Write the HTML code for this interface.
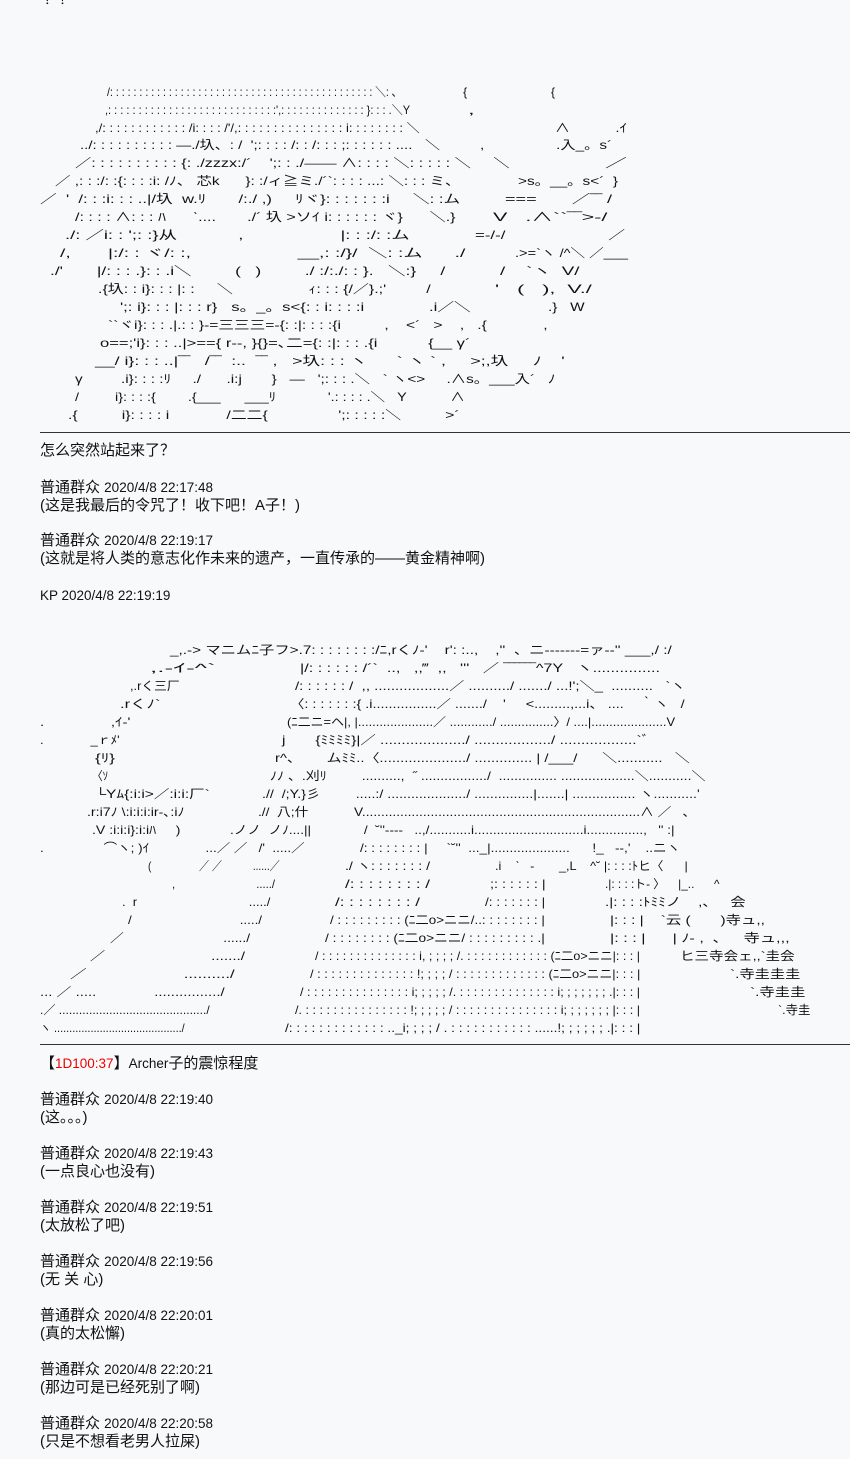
<!DOCTYPE html>
<html><head><meta charset="utf-8">
<style>
html,body{margin:0;padding:0;background:#f8f9fb;}
body{width:850px;height:1459px;position:relative;overflow:hidden;color:#111;font-family:"Liberation Sans","Noto Sans CJK JP",sans-serif;}
.a{position:absolute;white-space:pre;font-size:12px;line-height:16px;transform-origin:0 50%;}
.t{position:absolute;left:40px;font-size:15px;line-height:18px;white-space:pre;font-family:"Liberation Sans","Noto Sans CJK SC",sans-serif;}
.t .d{font-size:13.5px;}
.r{position:absolute;left:40px;width:810px;height:1px;background:#333;}
.red{color:#e00;}
</style></head><body>
<div class="a" style="left:40px;top:-8px" w="30">？！</div>

<div class="a" style="left:107px;top:84px" w="290">/: : : : : : : : : : : : : : : : : : : : : : : : : : : : : : : : : : : : : : : : : : : : : ＼: ､</div>
<div class="a" style="left:463px;top:84px" w="92">{                        {</div>
<div class="a" style="left:105px;top:102px" w="305">,: : : : : : : : : : : : : : : : : : : : : : : : : : : :',: : : : : : : : : : : : : : }: : : .＼Y</div>
<div class="a" style="left:468px;top:102px" w="6">,</div>
<div class="a" style="left:95px;top:120px" w="325">,/: : : : : : : : : : : : /i: : : : /'/,: : : : : : : : : : : : : : : i: : : : : : : : ＼</div>
<div class="a" style="left:555px;top:120px" w="72">∧           .ｲ</div>
<div class="a" style="left:80px;top:137px" w="360">../: : : : : : : : : : —./圦、: /  ';: : : : /: : /: : : ;: : : : : : ....   ＼</div>
<div class="a" style="left:480px;top:137px" w="132">,                 .入_。s´</div>
<div class="a" style="left:75px;top:155px" w="435">／: : : : : : : : : : {: ./zzzx:/´    ';: : ./—— ∧: : : : ＼: : : : : ＼     ＼</div>
<div class="a" style="left:605px;top:155px" w="22">／</div>
<div class="a" style="left:55px;top:173px" w="405">／ ,: : :/: :{: : : :i: /ﾉ、 芯k      }: :/ィ≧ミ./´`: : : : ...: ＼: : : ミ、</div>
<div class="a" style="left:518px;top:173px" w="100">&gt;s。__。s&lt;´  }</div>
<div class="a" style="left:40px;top:191px" w="420">／  '  /: : :i: : : ..|/圦  w.ﾘ       /:./ ,)     ﾘヾ}: : : : : : :i     ＼: :ム</div>
<div class="a" style="left:505px;top:191px" w="107">===       ／‾‾ /</div>
<div class="a" style="left:75px;top:209px" w="380">/: : : : ∧: : : ﾊ      ˋ....       ./´ 圦 &gt;ソｲ i: : : : : : ヾ}      ＼.}</div>
<div class="a" style="left:493px;top:209px" w="115">V   .∧``‾‾&gt;‐/</div>
<div class="a" style="left:65px;top:227px" w="345">./: ／i: : ';: :}从            ,                   |: : :/: :ム</div>
<div class="a" style="left:475px;top:227px" w="150">=‐/‐/                      ／</div>
<div class="a" style="left:60px;top:245px" w="405">/,       |:/: : ヾ/: :,                    __,: :/}/  ＼: :ム      ./</div>
<div class="a" style="left:515px;top:245px" w="113">.&gt;=`ヽ /^＼ ／___</div>
<div class="a" style="left:50px;top:263px" w="395">./'       |/: : : .}: : .i＼         (   )         ./ :/:./: : }.   ＼:}     /</div>
<div class="a" style="left:500px;top:263px" w="80">/    `ヽ  V/</div>
<div class="a" style="left:98px;top:281px" w="332">.{圦: : i}: : : |: :     ＼                 ｨ: : : {/／}.;'         /</div>
<div class="a" style="left:495px;top:281px" w="97">'   (   ),  V./</div>
<div class="a" style="left:120px;top:299px" w="350">';: i}: : : |: : : r}   s。_。s&lt;{: : i: : : :i              .i／＼</div>
<div class="a" style="left:548px;top:299px" w="37">.}   W</div>
<div class="a" style="left:108px;top:317px" w="440">``ヾi}: : : .|.: : }‐=三三三=‐{: :|: : : :{i          ,    &lt;´   &gt;    ,   .{             ,</div>
<div class="a" style="left:100px;top:335px" w="370">o==;'i}: : : ..|&gt;=={ r‐‐, }{}=､二={: :|: : : .{i           {__ γ´</div>
<div class="a" style="left:95px;top:353px" w="470">__/ i}: : : ..|‾‾   /‾‾  :..  ‾‾ ,   &gt;圦: : : ヽ      ` ヽ ` ,     &gt;;,圦     ﾉ    '</div>
<div class="a" style="left:75px;top:371px" w="480">γ         .i}: : : :ﾘ     ./      .i:j       }   —   ';: : : .＼   ` ヽ&lt;&gt;     .∧s。___入´   ﾉ</div>
<div class="a" style="left:75px;top:389px" w="390">/         i}: : : :{        .{___      ___ﾘ             '.: : : : .＼   Y           ∧</div>
<div class="a" style="left:68px;top:407px" w="392">.{          i}: : : : i             /二二{                ';: : : : :＼          &gt;´</div>

<div class="r" style="top:432px"></div>
<div class="t" style="top:442px">怎么突然站起来了？</div>
<div class="t" style="top:479px">普通群众 <span class="d">2020/4/8 22:17:48</span></div>
<div class="t" style="top:497px">(这是我最后的令咒了！收下吧！A子！)</div>
<div class="t" style="top:532px">普通群众 <span class="d">2020/4/8 22:19:17</span></div>
<div class="t" style="top:550px">(这就是将人类的意志化作未来的遗产，一直传承的——黄金精神啊)</div>
<div class="t" style="top:587px"><span class="d">KP 2020/4/8 22:19:19</span></div>

<div class="a" style="left:170px;top:642px" w="502">_,.-&gt; マニムﾆ子フ&gt;.7: : : : : : : :/ﾆ,rくﾉ‐'    r': :..,    ,''  、ニ‐‐‐‐‐‐‐=ァ‐‐'' ___,/ :/</div>
<div class="a" style="left:150px;top:660px" w="65">,.-ｲ-^`</div>
<div class="a" style="left:300px;top:660px" w="360">|/: : : : : : /´`  ..,   ,,‴  ,,   '''   ／ ‾‾‾‾‾‾^7Y   ヽ...............</div>
<div class="a" style="left:130px;top:678px" w="50">,.rく三厂</div>
<div class="a" style="left:295px;top:678px" w="390">/: : : : : : /  ,, ..................／ ........../ ......./ ...!';＼_  ..........   `ヽ</div>
<div class="a" style="left:120px;top:696px" w="40">.rくﾉ`</div>
<div class="a" style="left:290px;top:696px" w="395">〈: : : : : : :{ .i................／ ......./    '     &lt;.........,...i、 ....    ｀ヽ   /</div>
<div class="a" style="left:40px;top:714px" w="90">.                ,ｲ‐'</div>
<div class="a" style="left:287px;top:714px" w="388">(ﾆ二ニ=ヘ|, |.....................／ ............/ ...............〉/ ....|.....................V</div>
<div class="a" style="left:40px;top:732px" w="80">.             _ｒﾒ'</div>
<div class="a" style="left:282px;top:732px" w="368">j       {ﾐﾐﾐﾐ}|／ ..................../ ................../ ..................`ﾞ</div>
<div class="a" style="left:95px;top:750px" w="20">{ﾘ}</div>
<div class="a" style="left:275px;top:750px" w="415">r^、      ムﾐﾐ..〈...................../ .............. | /___/      ＼...........   ＼</div>
<div class="a" style="left:92px;top:768px" w="16">〈ｿ</div>
<div class="a" style="left:270px;top:768px" w="435">ﾉﾉ 、.刈ﾘ         ..........,  ˝ ................./  ............... ...................＼...........＼</div>
<div class="a" style="left:95px;top:786px" w="115">└Yﾑ{:i:i&gt;／:i:i:厂`</div>
<div class="a" style="left:262px;top:786px" w="438">.//  /;Y.}彡         .....:/ ..................../ ...............|.......| ................ ヽ...........'</div>
<div class="a" style="left:87px;top:804px" w="98">.r:i7ﾉ \:i:i:i:ir‐､:iﾉ</div>
<div class="a" style="left:258px;top:804px" w="432">.//  八;什            V.........................................................................∧ ／   ､</div>
<div class="a" style="left:92px;top:822px" w="88">.V :i:i:i}:i:iﾊ     )</div>
<div class="a" style="left:230px;top:822px" w="445">.ノノ  ノﾉ....||              /  ˘''‐‐‐‐   ..,/...........i.............................i...............,   '' :|</div>
<div class="a" style="left:40px;top:840px" w="265">.                ⌒ヽ; )ｲ               ...／ ／   /'  .....／</div>
<div class="a" style="left:360px;top:840px" w="320">/: : : : : : : : |     `˘''  ..._|.....................      !_   ‐‐,'    ..ニヽ</div>
<div class="a" style="left:148px;top:858px" w="132">(                 ／ ／           ......／</div>
<div class="a" style="left:345px;top:858px" w="85">./ ヽ: : : : : : : /</div>
<div class="a" style="left:495px;top:858px" w="193">.i    ˋ   ‐       _,L    ^˘ |: : : :ﾄヒ〈      |</div>
<div class="a" style="left:172px;top:876px" w="103">,                          ...../</div>
<div class="a" style="left:345px;top:876px" w="85">/: : : : : : : : /</div>
<div class="a" style="left:490px;top:876px" w="55">;: : : : : : |</div>
<div class="a" style="left:605px;top:876px" w="115">.|: : : :ト‐ 〉    |_..      ^</div>
<div class="a" style="left:122px;top:894px" w="148">.  r                               ...../</div>
<div class="a" style="left:335px;top:894px" w="85">/: : : : : : : : /</div>
<div class="a" style="left:485px;top:894px" w="60">/: : : : : : : |</div>
<div class="a" style="left:605px;top:894px" w="140">.|: : : :ﾄﾐﾐノ    ,、   会</div>
<div class="a" style="left:128px;top:912px" w="134">/                             ...../</div>
<div class="a" style="left:330px;top:912px" w="215">/ : : : : : : : : : (ﾆ二o&gt;ニニ/..: : : : : : : : |</div>
<div class="a" style="left:610px;top:912px" w="155">|: : : |    `云 (       )寺ュ,,</div>
<div class="a" style="left:110px;top:930px" w="140">／                          ....../</div>
<div class="a" style="left:325px;top:930px" w="220">/ : : : : : : : : (ﾆ二o&gt;ニニ/ : : : : : : : : : .|</div>
<div class="a" style="left:610px;top:930px" w="180">|: : : |      | ﾉ‐ ,  ､     寺ュ,,,</div>
<div class="a" style="left:90px;top:948px" w="155">／                         ......./</div>
<div class="a" style="left:315px;top:948px" w="325">/ : : : : : : : : : : : : : : i, ; ; ; ; /. : : : : : : : : : : : : (ﾆ二o&gt;ニニ|: : : |</div>
<div class="a" style="left:680px;top:948px" w="115">ヒ三寺会ェ,,`圭会</div>
<div class="a" style="left:70px;top:966px" w="165">／                     ........../</div>
<div class="a" style="left:310px;top:966px" w="330">/ : : : : : : : : : : : : : : !; ; ; ; / : : : : : : : : : : : : : (ﾆ二o&gt;ニニ|: : : |</div>
<div class="a" style="left:730px;top:966px" w="70">`.寺圭圭圭</div>
<div class="a" style="left:40px;top:984px" w="185">... ／ .....              ................/</div>
<div class="a" style="left:300px;top:984px" w="340">/ : : : : : : : : : : : : : : : i; ; ; ; ; /. : : : : : : : : : : : : : : i; ; ; ; ; ; ; .|: : : |</div>
<div class="a" style="left:750px;top:984px" w="55">`.寺圭圭</div>
<div class="a" style="left:40px;top:1002px" w="170">.／ ............................................/</div>
<div class="a" style="left:295px;top:1002px" w="345">/. : : : : : : : : : : : : : : : !; ; ; ; ; / : : : : : : : : : : : : : : : i; ; ; ; ; ; ; |: : : |</div>
<div class="a" style="left:778px;top:1002px" w="32">`.寺圭</div>
<div class="a" style="left:40px;top:1020px" w="145">ヽ ........................................../</div>
<div class="a" style="left:285px;top:1020px" w="355">/: : : : : : : : : : : : : .._i; ; ; ; / . : : : : : : : : : : : ......!; ; ; ; ; ; .|: : : |</div>

<div class="r" style="top:1044px"></div>
<div class="t" style="top:1055px">【<span class="red d">1D100:37</span>】<span class="d">Archer</span>子的震惊程度</div>
<div class="t" style="top:1091px">普通群众 <span class="d">2020/4/8 22:19:40</span></div>
<div class="t" style="top:1109px">(这。。。)</div>
<div class="t" style="top:1145px">普通群众 <span class="d">2020/4/8 22:19:43</span></div>
<div class="t" style="top:1163px">(一点良心也没有)</div>
<div class="t" style="top:1199px">普通群众 <span class="d">2020/4/8 22:19:51</span></div>
<div class="t" style="top:1217px">(太放松了吧)</div>
<div class="t" style="top:1253px">普通群众 <span class="d">2020/4/8 22:19:56</span></div>
<div class="t" style="top:1271px">(无 关 心)</div>
<div class="t" style="top:1307px">普通群众 <span class="d">2020/4/8 22:20:01</span></div>
<div class="t" style="top:1325px">(真的太松懈)</div>
<div class="t" style="top:1361px">普通群众 <span class="d">2020/4/8 22:20:21</span></div>
<div class="t" style="top:1379px">(那边可是已经死别了啊)</div>
<div class="t" style="top:1415px">普通群众 <span class="d">2020/4/8 22:20:58</span></div>
<div class="t" style="top:1433px">(只是不想看老男人拉屎)</div>

<script>
document.querySelectorAll('.a[w]').forEach(function(e){
  var w=parseFloat(e.getAttribute('w'));var c=e.scrollWidth;
  if(c>0){e.style.transform='scaleX('+(w/c)+')';}
});
</script>
</body></html>
